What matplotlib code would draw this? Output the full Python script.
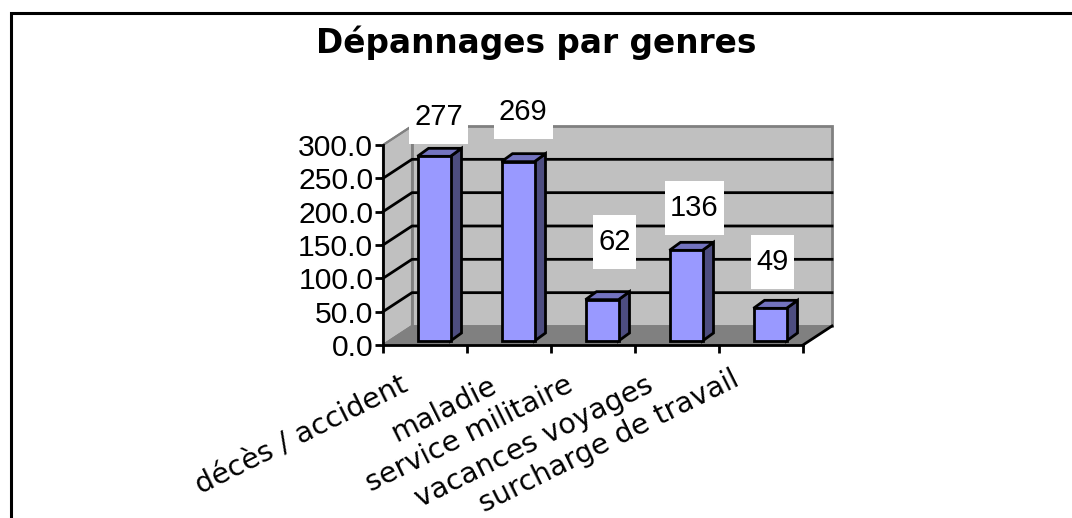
import matplotlib
matplotlib.use("Agg")
import matplotlib.pyplot as plt
from matplotlib.patches import Polygon, Rectangle

categories = ["décès / accident", "maladie", "service militaire", "vacances voyages", "surcharge de travail"]
values = [277, 269, 62, 136, 49]
y_ticks = [0, 50, 100, 150, 200, 250, 300]

W, H = 1072, 518
fig = plt.figure(figsize=(W / 100, H / 100), dpi=100, facecolor="white")

# front plane of the fake 3d box
left, right, top, bottom = 383, 803, 145, 345
ax = fig.add_axes([left / W, 1 - bottom / H, (right - left) / W, (bottom - top) / H])
ax.set_xlim(0, len(categories))
ax.set_ylim(0, 300)
ax.patch.set_visible(False)

# pixel sizes in data units
px_x = len(categories) / (right - left)
px_y = 300 / (bottom - top)

# depth of box and of bars
dx = 29 * px_x
dy = 19 * px_y
bar_w = 33 * px_x
bar_dx = 11 * px_x
bar_dy = 8 * px_y
off_x = 9 * px_x
off_y = 4 * px_y
n = len(categories)

# label boxes sit a bit differently on each bar in the original (pixels)
label_shift = [4.5, 5, 12.5, 8.5, 2.5]
label_gap = [12, 23, 31, 15, 19]
cat_shift = [-25, -20, -28, -32, -30]
cat_drop = [-26, -26, -26, -26, -20]

GREY = "#c0c0c0"
DARK = "#808080"
lw = 2.0

# walls and floor
ax.add_patch(Polygon([(0, 0), (dx, dy), (dx, 300 + dy), (0, 300)], fc=GREY, ec=DARK, lw=1.5, clip_on=False, zorder=1))
ax.add_patch(Rectangle((dx, dy), n, 300, fc=GREY, ec=DARK, lw=2, clip_on=False, zorder=1))
ax.add_patch(Polygon([(0, 0), (n, 0), (n + dx, dy), (dx, dy)], fc=DARK, ec=DARK, lw=1, clip_on=False, zorder=1))

# gridlines on wall and back
for t in y_ticks[1:-1]:
    ax.plot([0, dx, n + dx], [t, t + dy, t + dy], color="black", lw=lw, clip_on=False, zorder=2)
ax.plot([n, n + dx], [0, dy], color="black", lw=lw, clip_on=False, zorder=2)
ax.plot([0, dx], [0, dy], color=DARK, lw=1.5, clip_on=False, zorder=3)
ax.plot([0, dx], [300, 300 + dy], color=DARK, lw=1.5, clip_on=False, zorder=3)

# bars
for i, v in enumerate(values):
    xc = i + 0.5 + off_x
    x0 = xc - bar_w / 2
    x1 = x0 + bar_w
    y0 = off_y
    y1 = off_y + v
    ax.add_patch(Polygon([(x1, y0), (x1 + bar_dx, y0 + bar_dy), (x1 + bar_dx, y1 + bar_dy), (x1, y1)],
                         fc="#4d4d80", ec="black", lw=lw, joinstyle="miter", clip_on=False, zorder=4))
    ax.add_patch(Polygon([(x0, y1), (x1, y1), (x1 + bar_dx, y1 + bar_dy), (x0 + bar_dx, y1 + bar_dy)],
                         fc="#7373bf", ec="black", lw=lw, joinstyle="miter", clip_on=False, zorder=4))
    ax.add_patch(Rectangle((x0, y0), bar_w, v, fc="#9999ff", ec="black", lw=lw, joinstyle="miter", clip_on=False, zorder=5))

    # white label box, 54 px high, width follows the digits
    s = str(v)
    box_w = (16 * len(s) + 11) * px_x
    box_h = 54 * px_y
    bx = xc + label_shift[i] * px_x
    by = y1 + label_gap[i] * px_y
    ax.add_patch(Rectangle((bx - box_w / 2, by), box_w, box_h, fc="white", ec="none", clip_on=False, zorder=6))
    ax.text(bx, by + box_h / 2, s, ha="center", va="center", fontsize=21, family="Liberation Sans",
            clip_on=False, zorder=7)

for s in ["top", "right"]:
    ax.spines[s].set_visible(False)
for s in ["left", "bottom"]:
    ax.spines[s].set_linewidth(lw)
    ax.spines[s].set_zorder(8)

ax.set_yticks(y_ticks)
ax.set_yticklabels(["%.1f" % t for t in y_ticks], fontsize=21.7, family="Liberation Sans")
ax.tick_params(axis="y", length=6, width=lw, pad=1, direction="out")
ax.set_xticks(range(n + 1))
ax.set_xticklabels([""] * (n + 1))
ax.tick_params(axis="x", length=6, width=lw, direction="out")

# category labels, rotated, anchored at their right end
for i, c in enumerate(categories):
    ax.annotate(c, (i + 0.5, 0), xytext=(cat_shift[i], cat_drop[i]), textcoords="offset pixels", rotation=26.5,
                rotation_mode="anchor", ha="right", va="top", fontsize=20.5, family="DejaVu Sans",
                annotation_clip=False)

fig.text(536 / W, 1 - 53 / H, "Dépannages par genres", ha="center", va="baseline",
         fontsize=23.6, fontweight="bold", family="DejaVu Sans")

# outer border, only top and left are in the crop
fig.add_artist(plt.Line2D([11 / W, 11 / W, 1], [0, 1 - 13 / H, 1 - 13 / H], color="black", lw=2.2,
                          solid_joinstyle="miter"))

fig.savefig("out.png", dpi=100)
